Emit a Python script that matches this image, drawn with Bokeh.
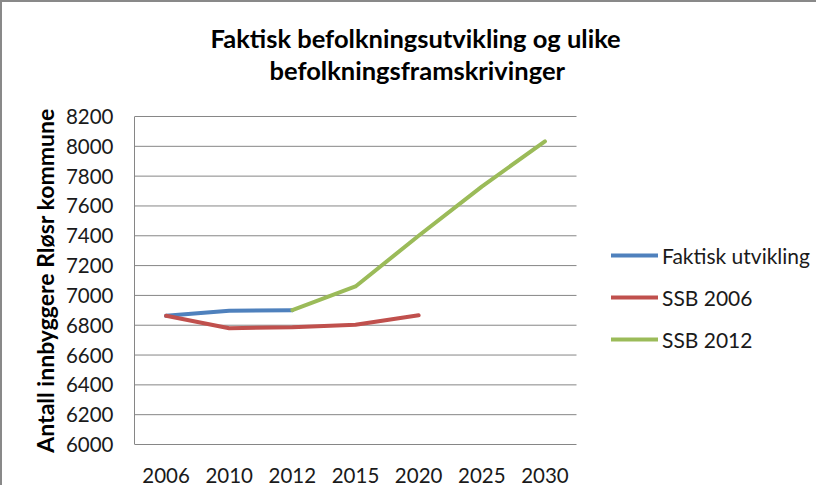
from bokeh.plotting import figure
from bokeh.models import Range1d, Legend, LegendItem, Title, FixedTicker
from bokeh.embed import file_html
from bokeh.resources import INLINE

years = ["2006", "2010", "2012", "2015", "2020", "2025", "2030"]

faktisk_years = ["2006", "2010", "2012"]
faktisk = [6863, 6897, 6901]

ssb2006_years = ["2006", "2010", "2012", "2015", "2020"]
ssb2006 = [6863, 6780, 6786, 6803, 6867]

ssb2012_years = ["2012", "2015", "2020", "2025", "2030"]
ssb2012 = [6901, 7060, 7400, 7730, 8033]

y_ticks = [6000, 6200, 6400, 6600, 6800, 7000, 7200, 7400, 7600, 7800, 8000, 8200]

FONT = "Lato"
GRAY = "#868686"

n = len(years)
pos = {y: i for i, y in enumerate(years)}

# layout: category band is 442 px wide, frame continues to the right edge
BAND_PX = 442
FRAME_PX = 684
x_end = -0.5 + FRAME_PX / (BAND_PX / n)
y_pad = 6.7

p = figure(
    width=816, height=485,
    x_range=Range1d(-0.5, x_end),
    y_range=Range1d(y_ticks[0] - y_pad, y_ticks[-1] + y_pad),
    output_backend="svg", toolbar_location=None,
    min_border_left=132, min_border_right=0,
    min_border_top=113, min_border_bottom=42,
    styles={"border-top": "2px solid #898989", "border-left": "2px solid #898989"},
)
p.outline_line_color = None
p.background_fill_color = "white"
p.border_fill_color = "white"
p.xgrid.grid_line_color = None
p.ygrid.grid_line_color = None

# horizontal gridlines over the category band
p.segment(x0=-0.5, x1=n - 0.5, y0=y_ticks, y1=y_ticks, line_color=GRAY, line_width=1)

r1 = p.line([pos[y] for y in faktisk_years], faktisk, line_color="#4F81BD", line_width=4,
            line_join="round", line_cap="round")
r2 = p.line([pos[y] for y in ssb2006_years], ssb2006, line_color="#C0504D", line_width=4,
            line_join="round", line_cap="round")
r3 = p.line([pos[y] for y in ssb2012_years], ssb2012, line_color="#9BBB59", line_width=4,
            line_join="round", line_cap="round")

p.xaxis.ticker = FixedTicker(ticks=list(range(n)))
p.xaxis.major_label_overrides = {i: y for i, y in enumerate(years)}
p.yaxis.ticker = FixedTicker(ticks=y_ticks)
p.yaxis.bounds = (y_ticks[0], y_ticks[-1])

for ax in (p.xaxis[0], p.yaxis[0]):
    ax.axis_line_color = GRAY
    ax.axis_line_width = 1
    ax.major_tick_line_color = None
    ax.minor_tick_line_color = None
    ax.major_tick_out = 0
    ax.major_tick_in = 0
    ax.minor_tick_out = 0
    ax.minor_tick_in = 0
    ax.major_label_text_font = FONT
    ax.major_label_text_font_size = "20.5px"
    ax.major_label_text_color = "#1a1a1a"

p.xaxis.axis_line_color = None
p.yaxis.major_label_standoff = 21
p.xaxis.major_label_standoff = 22

p.yaxis.axis_label = "Antall innbyggere Rløsr kommune"
p.yaxis.axis_label_text_font = FONT
p.yaxis.axis_label_text_font_size = "23px"
p.yaxis.axis_label_text_font_style = "bold"
p.yaxis.axis_label_text_color = "#000000"
p.yaxis.axis_label_standoff = 4

# titles: spacer nearest the frame, then line 2, then line 1
spacer = Title(text=" ", text_font=FONT, text_font_size="10px", standoff=17)
t2 = Title(text="befolkningsframskrivinger", align="left", offset=135,
           text_font=FONT, text_font_size="25.5px", text_font_style="bold",
           text_color="#000000", standoff=0)
t1 = Title(text="Faktisk befolkningsutvikling og ulike", align="left", offset=76,
           text_font=FONT, text_font_size="25.5px", text_font_style="bold",
           text_color="#000000", standoff=0)
p.add_layout(spacer, "above")
p.add_layout(t2, "above")
p.add_layout(t1, "above")

legend = Legend(
    items=[LegendItem(label="Faktisk utvikling", renderers=[r1]),
           LegendItem(label="SSB 2006", renderers=[r2]),
           LegendItem(label="SSB 2012", renderers=[r3])],
    location=(477, 93),
    glyph_width=47, glyph_height=26, label_height=26, spacing=16,
    label_standoff=4, padding=0, margin=0,
    border_line_color=None, background_fill_alpha=0,
    label_text_font=FONT, label_text_font_size="21px", label_text_color="#1a1a1a",
)
p.add_layout(legend, "center")

open("out.html", "w").write(file_html(p, INLINE))
